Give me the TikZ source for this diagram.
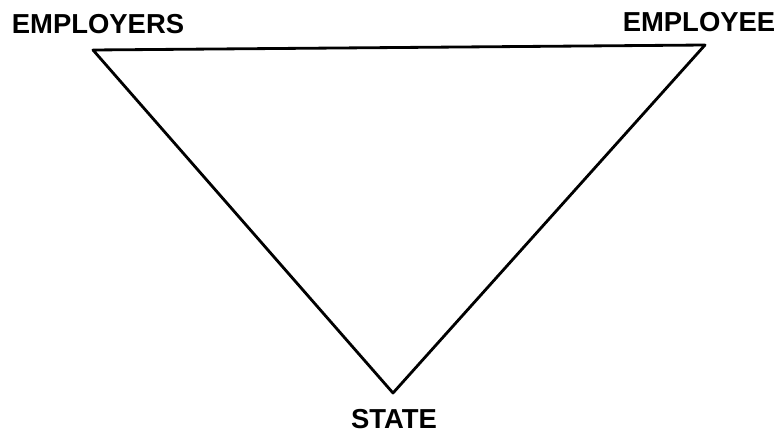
\documentclass[tikz,border=0pt]{standalone}
\usepackage{fontspec}
\setmainfont{Liberation Sans}
\usepackage{tikz}
\usetikzlibrary{positioning}

\begin{document}
\begin{tikzpicture}[
    x=0.025cm, y=-0.025cm,
    party/.style={anchor=base, inner sep=0pt, font=\fontsize{19.5}{22}\selectfont\bfseries},
    side/.style={line width=2pt, line join=round},
  ]
  \useasboundingbox (0,0) rectangle (780,433);
  % Corners of the triangle
  \coordinate (employers) at (93,50);
  \coordinate (employee) at (705,45);
  \coordinate (state) at (393,393);
  % Labels
  \node[party] (lemployers) at (98,34) {EMPLOYERS};
  \node[party] (lemployee) at (699,32) {EMPLOYEE};
  \node[party] (lstate) at (394,428) {STATE};

  \draw[side] (employers) -- (employee) -- (state) -- cycle;
\end{tikzpicture}
\end{document}
